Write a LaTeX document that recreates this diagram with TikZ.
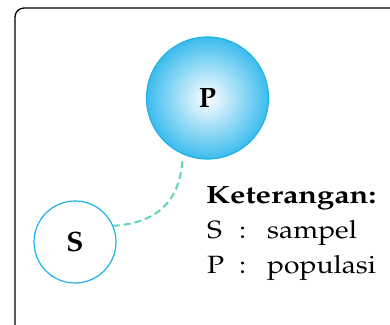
\documentclass[tikz,border=0pt]{standalone}
\usepackage[T1]{fontenc}
\usepackage{mathpazo}
\usepackage{tikz}
\usetikzlibrary{arrows}
\definecolor{popcyan}{RGB}{30,178,230}
\definecolor{popfill}{RGB}{60,188,238}
\definecolor{linkgreen}{RGB}{100,210,185}
\newcommand{\wide}[2][1.13]{\scalebox{#1}[1]{#2}}
\begin{document}
\begin{tikzpicture}[x=1pt,y=1pt,
	ball/.style={circle, draw=popcyan, line width=1.2pt, inner sep=0pt, font=\fontsize{28}{28}\selectfont\bfseries},
	legend/.style={anchor=base west, inner sep=0pt, font=\fontsize{25}{25}\selectfont},
	link/.style={color=linkgreen, line width=2pt, dash pattern=on 7pt off 4pt}]
			\useasboundingbox (0,0) rectangle (390,324);
			\clip (0,0) rectangle (390,324);
			\draw[line width=1.3pt, rounded corners=9pt](15,-20) rectangle (420,316);
			\node[ball, minimum size=122pt, inner color=white, outer color=popfill](P) at (207.5,226) {P};
			\node[ball, minimum size=82pt, fill=white](S) at (75,82) {S};
			\draw[link]([yshift=-7pt]P.246) .. controls +(-4,-50) and +(32,2) .. (S.23);
			\node[legend, font=\fontsize{25}{25}\selectfont\bfseries](ket) at (206,121) {\wide[1.23]{Keterangan:}};
			\node[legend](legS) at (207,86) {\wide{S}};
			\node[legend](colS) at (239,86) {\wide{:}};
			\node[legend](txtS) at (267,86) {\wide{sampel}};
			\node[legend](legP) at (207,51) {\wide{P}};
			\node[legend](colP) at (239,51) {\wide{:}};
			\node[legend](txtP) at (267,51) {\wide{populasi}};
		\end{tikzpicture}
\end{document}
